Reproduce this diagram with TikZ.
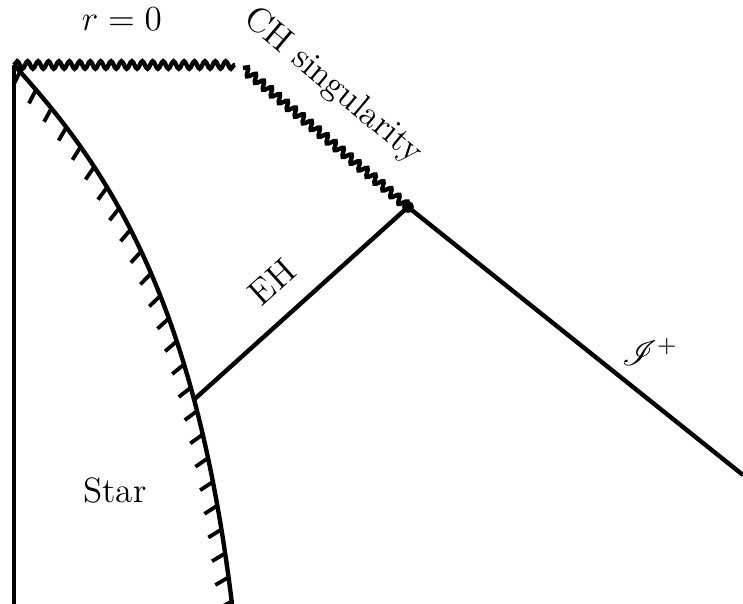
\documentclass[tikz,border=0pt]{standalone}
\usepackage{mathrsfs}
\usetikzlibrary{decorations.pathmorphing,decorations.markings}
\begin{document}
\begin{tikzpicture}[
		x=0.012cm, y=-0.012cm,
		line width=1.5pt, font=\large,
		sing/.style={decorate, decoration={snake, segment length=0.125cm, amplitude=0.045cm}},
		hatched/.style={postaction={decorate, decoration={markings,
			mark=between positions 0.015 and 1 step 0.29cm with {\draw[line width=1.3pt] (0,0) -- (0.07cm,-0.17cm);}}}}
	]
		\useasboundingbox (0,0) rectangle (743,604);
		\coordinate (top) at (14,65);
		\coordinate (rend) at (235,65);
		\coordinate (chs) at (243,68);
		\coordinate (che) at (408,207);
		\coordinate (axis) at (14,604);
		\coordinate (sbot) at (232,604);
		\coordinate (scri) at (743,475);
		% singularities
		\draw[sing] (top) -- (rend);
		\draw[sing] (chs) -- (che);
		% centre and stellar surface
		\draw (top) -- (axis);
		\draw[hatched] (top) .. controls (110,170) and (195,300) .. coordinate[pos=0.74] (ehs) (sbot);
		% horizon and null infinity
		\draw (ehs) -- (che);
		\draw (che) -- (scri);
		\fill (che) circle (0.07cm);
		\node (rlab) at (122,19) {$r = 0$};
		\node[rotate=-40] (chlab) at (333,86) {CH singularity};
		\node[rotate=42] (ehlab) at (272,282) {EH};
		\node (scrilab) at (650,352) {$\mathscr{I}^{+}$};
		\node (star) at (115,490) {Star};
	\end{tikzpicture}
\end{document}
